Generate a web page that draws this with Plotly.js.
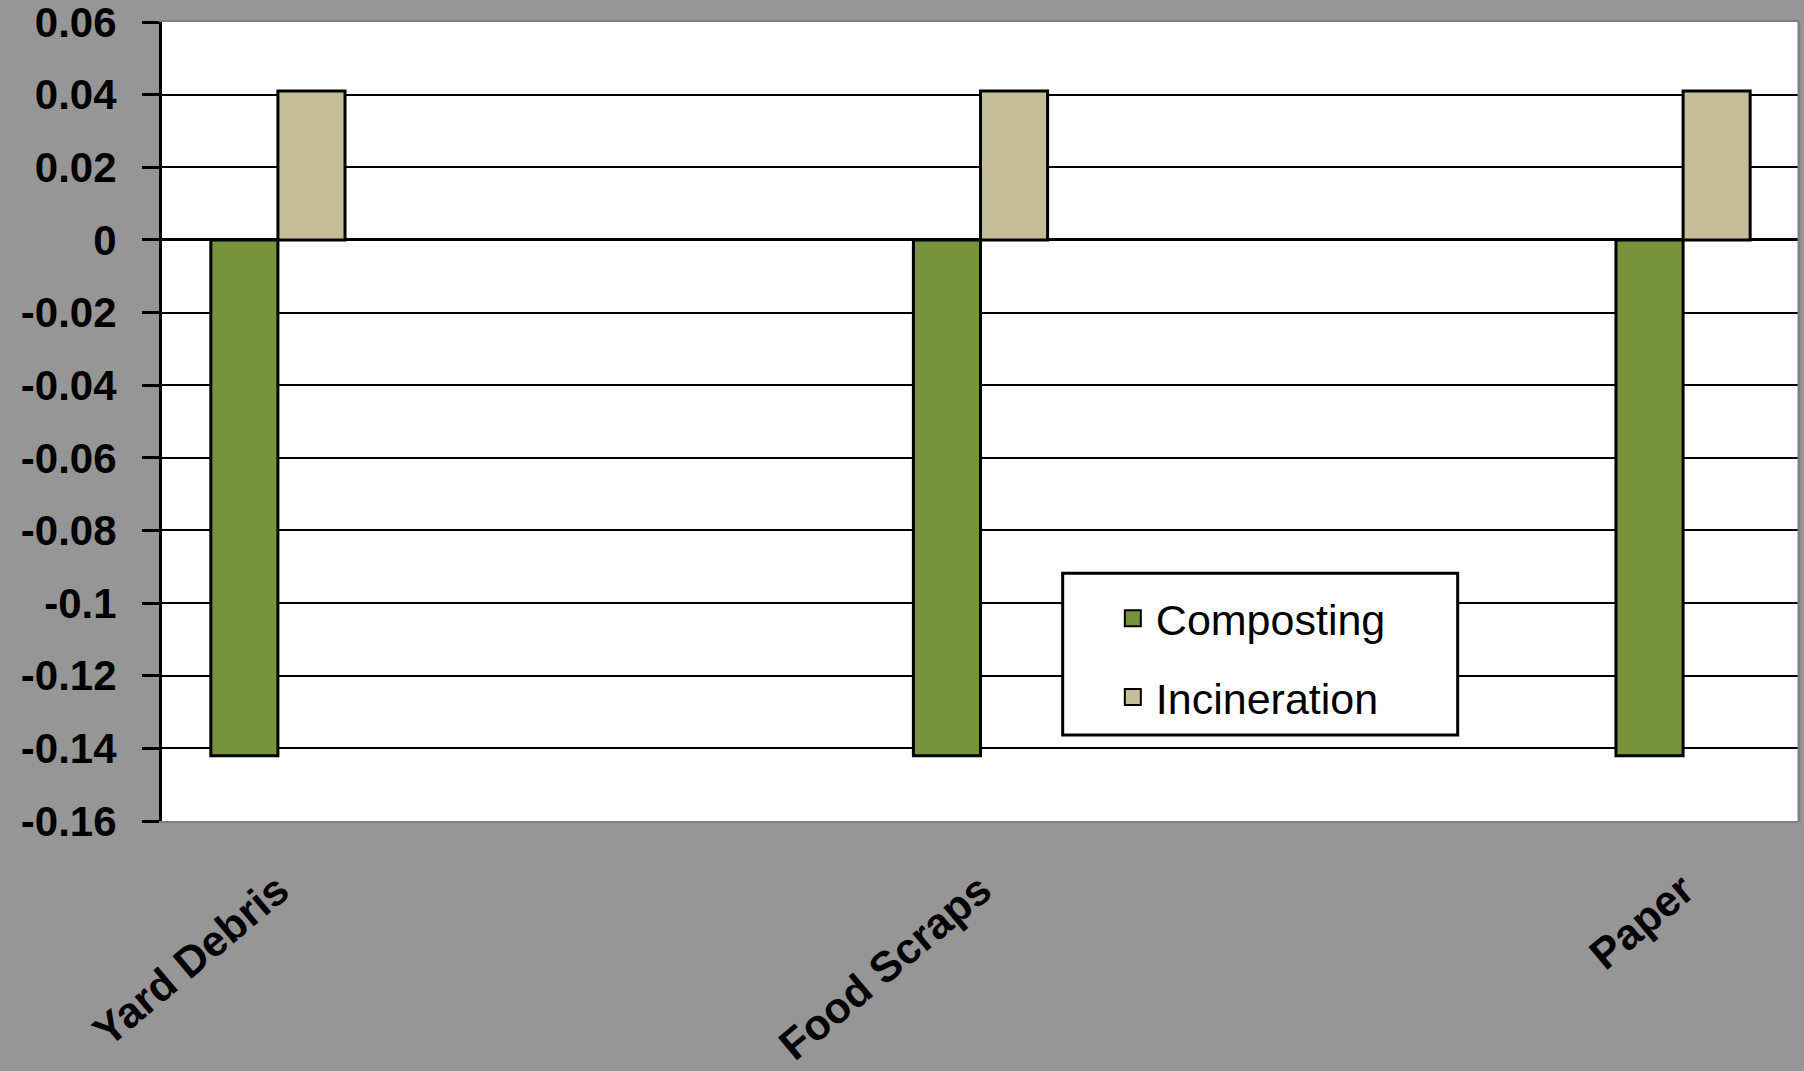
<!DOCTYPE html>
<html>
<head>
<meta charset="utf-8">
<script src="https://cdn.plot.ly/plotly-3.0.1.min.js"></script>
<style>html,body{margin:0;padding:0;background:#969696;}#chart{width:1804px;height:1071px;}</style>
</head>
<body>
<div id="chart"></div>
<script>
const categories = ['Yard Debris', 'Food Scraps', 'Paper'];
const seriesNames = ['Composting', 'Incineration'];
const composting = [-0.142, -0.142, -0.142];
const incineration = [0.041, 0.041, 0.041];
const yTickVals = [0.06, 0.04, 0.02, 0, -0.02, -0.04, -0.06, -0.08, -0.1, -0.12, -0.14, -0.16];
const yTickText = ['0.06', '0.04', '0.02', '0', '-0.02', '-0.04', '-0.06', '-0.08', '-0.1', '-0.12', '-0.14', '-0.16'];
const colors = ['#77933C', '#C4BD97'];

const traces = [
  {type: 'bar', name: seriesNames[0], x: categories, y: composting, showlegend: false,
   marker: {color: colors[0], line: {color: '#000000', width: 3}}},
  {type: 'bar', name: seriesNames[1], x: categories, y: incineration, showlegend: false,
   marker: {color: colors[1], line: {color: '#000000', width: 3}}},
  // legend entries (no data of their own, larger square symbols)
  {type: 'scatter', mode: 'markers', name: seriesNames[0], x: [null], y: [null], legendgroup: 'a',
   marker: {symbol: 'square', size: 16, color: colors[0], line: {color: '#000000', width: 2}}},
  {type: 'scatter', mode: 'markers', name: seriesNames[1], x: [null], y: [null], legendgroup: 'b',
   marker: {symbol: 'square', size: 16, color: colors[1], line: {color: '#000000', width: 2}}}
];

const FONT = '"Liberation Sans", Arial, sans-serif';

const layout = {
  width: 1804, height: 1071,
  paper_bgcolor: '#969696', plot_bgcolor: '#ffffff',
  margin: {l: 162, r: 5, t: 22, b: 250},
  barmode: 'group', bargap: 0.809, bargroupgap: 0,
  showlegend: true,
  font: {family: FONT, color: '#000000'},
  xaxis: {
    type: 'category', range: [-0.165, 2.165],
    showgrid: false, zeroline: false,
    showline: true, linecolor: '#808080', linewidth: 2, mirror: true,
    ticks: '', tickangle: -40, ticklabelstandoff: 25, ticklabeloverflow: 'allow',
    tickfont: {size: 43, family: FONT, weight: 'bold', color: '#000000'}
  },
  yaxis: {
    range: [-0.16, 0.06], tickmode: 'array', tickvals: yTickVals, ticktext: yTickText,
    showgrid: true, gridcolor: '#000000', gridwidth: 2,
    zeroline: true, zerolinecolor: '#000000', zerolinewidth: 3,
    showline: true, linecolor: '#000000', linewidth: 3,
    ticks: 'outside', ticklen: 17, tickwidth: 3, tickcolor: '#000000',
    ticklabelstandoff: 17, ticklabeloverflow: 'allow',
    tickfont: {size: 42, family: FONT, weight: 'bold', color: '#000000'}
  },
  shapes: [
    {type: 'line', xref: 'paper', yref: 'paper', x0: 1, x1: 1, y0: 0, y1: 1,
     line: {color: '#808080', width: 3}},
    {type: 'rect', xref: 'paper', yref: 'paper', layer: 'above',
     x0: 0.5502, x1: 0.7915, y0: 0.1077, y1: 0.3102,
     fillcolor: '#ffffff', line: {color: '#000000', width: 3}}
  ],
  legend: {
    x: 0.579, y: 0.297, xanchor: 'left', yanchor: 'top',
    bgcolor: 'rgba(0,0,0,0)', borderwidth: 0,
    font: {size: 43, family: FONT, color: '#000000'},
    tracegroupgap: 20, traceorder: 'grouped', itemwidth: 36
  }
};

Plotly.newPlot('chart', traces, layout, {displayModeBar: false, staticPlot: true});
</script>
</body>
</html>
